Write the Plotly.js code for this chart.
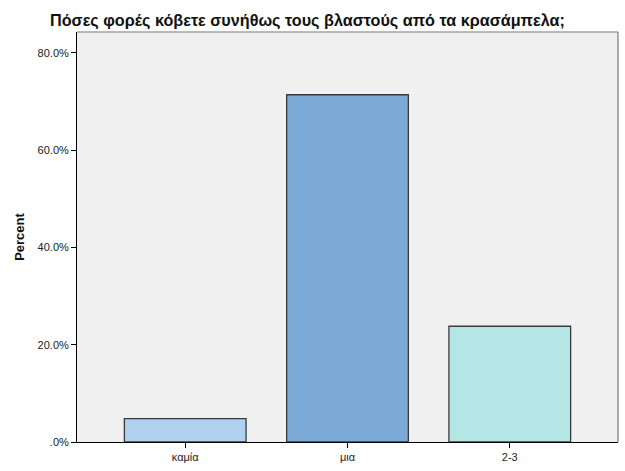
<!DOCTYPE html>
<html>
<head>
<meta charset="utf-8">
<script src="https://cdn.plot.ly/plotly-3.0.1.min.js"></script>
<style>html,body{margin:0;padding:0;background:#fff;}#chart{width:625px;height:471px;}</style>
</head>
<body>
<div id="chart"></div>
<script>
const categories = ["καμία", "μια", "2-3"];
const percents = [4.8, 71.4, 23.8];
const barColors = ["#AFD0EF", "#7BAAD7", "#B4E6E6"];
const yTickVals = [0, 20, 40, 60, 80];
const yTickText = [".0%", "20.0%", "40.0%", "60.0%", "80.0%"];
const titleText = "Πόσες φορές κόβετε συνήθως τους βλαστούς από τα κρασάμπελα;";

const trace = {
  type: "bar",
  x: categories,
  y: percents,
  width: 0.75,
  marker: {color: barColors, line: {color: "#3a3a3a", width: 1.3}},
  hoverinfo: "none"
};

const plotL = 77, plotR = 618, plotT = 32, plotB = 442;
const W = 625, H = 471;

const layout = {
  width: W, height: H,
  margin: {l: plotL, r: W - plotR, t: plotT, b: H - plotB},
  paper_bgcolor: "#ffffff",
  plot_bgcolor: "#F0F0F0",
  showlegend: false,
  font: {family: "Arial, Liberation Sans, sans-serif", color: "#222"},
  annotations: [{
    text: titleText,
    xref: "paper", yref: "paper",
    x: (48 - plotL) / (plotR - plotL), xanchor: "left",
    y: (plotB - 21) / (plotB - plotT), yanchor: "middle",
    showarrow: false,
    font: {size: 16.2, color: "#111", family: "Arial, Liberation Sans, sans-serif", weight: "bold"}
  }],
  xaxis: {
    type: "category",
    range: [-0.667, 2.667],
    showgrid: false, zeroline: false,
    showline: true, linecolor: "#000", linewidth: 1,
    ticks: "outside", ticklen: 5, tickcolor: "#000", tickwidth: 1,
    tickfont: {size: 11, color: "#222"},
    fixedrange: true
  },
  yaxis: {
    range: [0, 84.3],
    tickvals: yTickVals, ticktext: yTickText,
    showgrid: false, zeroline: false,
    showline: true, linecolor: "#000", linewidth: 1,
    ticks: "outside", ticklen: 5, tickcolor: "#000", tickwidth: 1,
    tickfont: {size: 11, color: "#222"},
    title: {text: "Percent", font: {size: 13, color: "#111", weight: "bold"}, standoff: 10},
    fixedrange: true
  },
  shapes: [
    {type: "line", xref: "paper", yref: "paper", x0: 0, x1: 1, y0: 1, y1: 1, line: {color: "#777", width: 1.2}},
    {type: "line", xref: "paper", yref: "paper", x0: 1, x1: 1, y0: 0, y1: 1, line: {color: "#777", width: 1.2}}
  ]
};

Plotly.newPlot("chart", [trace], layout, {displayModeBar: false, staticPlot: true});
</script>
</body>
</html>
